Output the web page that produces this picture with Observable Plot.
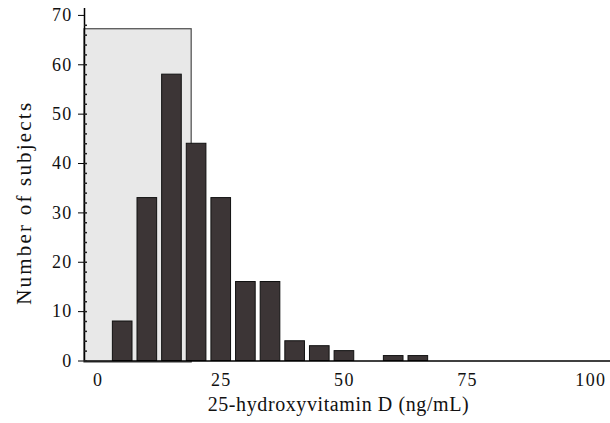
<!DOCTYPE html>
<html><head><meta charset="utf-8">
<script src="https://cdn.jsdelivr.net/npm/d3@7"></script>
<script src="https://cdn.jsdelivr.net/npm/@observablehq/plot@0.6"></script>
<style>
body{margin:0;background:#fff}
g[aria-label="x-axis tick label"] text, g[aria-label="y-axis tick label"] text {letter-spacing:1.3px}
</style>
</head><body><div id="chart"></div>
<script>
// Histogram bins (ng/mL, lower edge of each 5-unit bin) and subject counts
const binStarts = [2.5, 7.5, 12.5, 17.5, 22.5, 27.5, 32.5, 37.5, 42.5, 47.5, 57.5, 62.5];
const counts    = [8, 33, 58, 44, 33, 16, 16, 4, 3, 2, 1, 1];
const binWidth = 5;
// Shaded deficiency region
const shadeRange = [-2.75, 19];
const shadeTop = 67.2;
const shadeBottom = -0.3;
// Axes
const xDomain = [-2.75, 104];
const yDomain = [0, 71.4];
const xTicks = [0, 25, 50, 75, 100];
const yTicks = [0, 10, 20, 30, 40, 50, 60, 70];
const yMinorTicks = d3.range(0, 70, 2);
const xTitle = "25-hydroxyvitamin D (ng/mL)";
const yTitle = "Number of subjects";

const data = binStarts.map((s, i) => ({start: s, end: s + binWidth, count: counts[i]}));
const font = "'Liberation Serif', 'DejaVu Serif', serif";

const chart = Plot.plot({
  width: 610, height: 423,
  marginLeft: 84, marginRight: 0, marginTop: 8, marginBottom: 62.5,
  x: {domain: xDomain},
  y: {domain: yDomain},
  style: {fontFamily: font, fontSize: "18px", color: "#111", background: "white"},
  marks: [
    Plot.rect([{x1: shadeRange[0], x2: shadeRange[1], y1: shadeBottom, y2: shadeTop}],
      {x1: "x1", x2: "x2", y1: "y1", y2: "y2", fill: "#e8e8e8", stroke: "#4a4a4a", strokeWidth: 1.2}),
    Plot.rectY(data, {x1: "start", x2: "end", y: "count", insetLeft: 2.5, insetRight: 2.5,
      fill: "#3c3536", stroke: "#111", strokeWidth: 1}),
    Plot.ruleY([0], {stroke: "#000", strokeWidth: 1.5}),
    Plot.ruleX([xDomain[0]], {stroke: "#000", strokeWidth: 1.5}),
    Plot.axisY({ticks: yTicks, tickSize: 6, tickPadding: 6, label: null, fontSize: 18, stroke: "#000"}),
    Plot.axisY({ticks: yMinorTicks, tickSize: -3, text: null, label: null, stroke: "#222", strokeWidth: 1.5}),
    Plot.axisX({ticks: xTicks, tickSize: 0, tickPadding: 12, label: null, fontSize: 18}),
    Plot.text([xTitle], {frameAnchor: "bottom", textAnchor: "middle", dx: -9, dy: 50, fontSize: 20, fill: "#111"}),
    Plot.text([yTitle], {frameAnchor: "left", textAnchor: "middle", rotate: -90, dx: -60, dy: 18, fontSize: 21, fill: "#111"})
  ]
});
const textGroups = chart.querySelectorAll('g[aria-label="text"]');
if (textGroups[0]) textGroups[0].setAttribute("letter-spacing", "0.6px");
if (textGroups[1]) textGroups[1].setAttribute("letter-spacing", "2.2px");
document.getElementById("chart").appendChild(chart);
</script>
</body></html>
